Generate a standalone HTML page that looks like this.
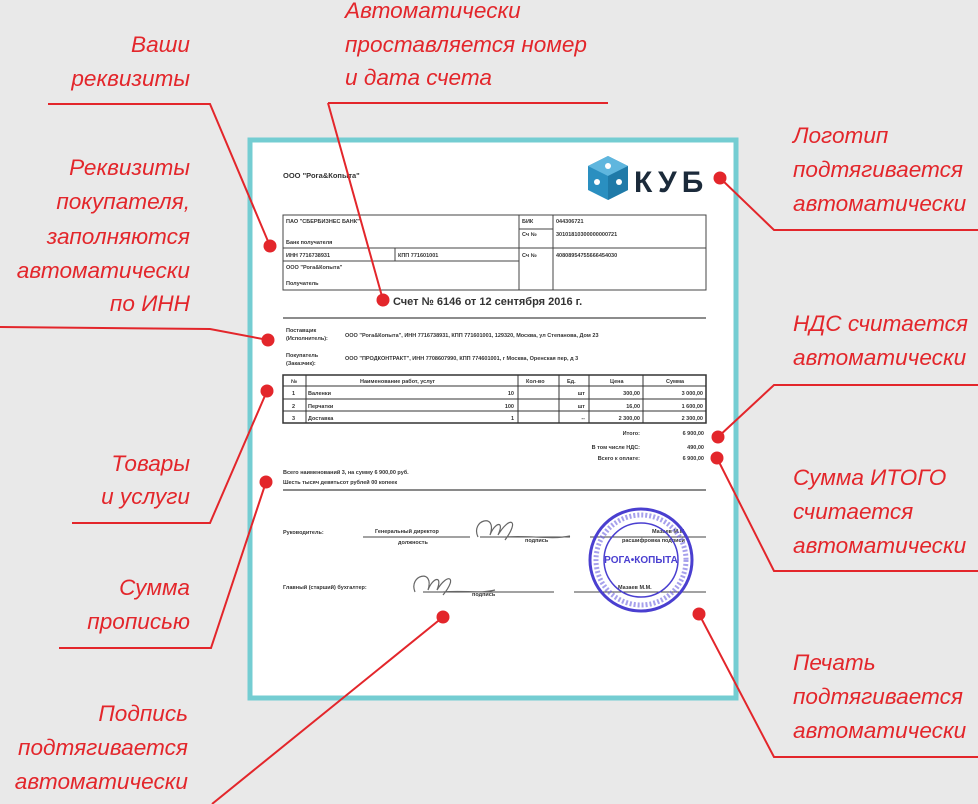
<!DOCTYPE html>
<html><head><meta charset="utf-8"><style>
html,body{margin:0;padding:0;background:#e9e9e9;}
svg{display:block;}
.lbl{font-family:"Liberation Sans",sans-serif;font-style:italic;font-size:22.6px;fill:#e3262b;}
.r{text-anchor:end;}
.d{font-family:"Liberation Sans",sans-serif;font-weight:bold;fill:#333;}
</style></head><body>
<svg width="978" height="804" viewBox="0 0 978 804" xmlns="http://www.w3.org/2000/svg">
<rect width="978" height="804" fill="#e9e9e9"/>
<rect x="250" y="140" width="486" height="558" fill="#fff" stroke="#74cdd2" stroke-width="5"/>
<text x="283" y="178" class="d" font-size="7.5">ООО "Рога&amp;Копыта"</text>
<polygon points="608,156 628,166 628,190 608,200 588,190 588,166" fill="#2a8fc0"/>
<polygon points="608,156 628,166 608,176 588,166" fill="#5fb6de"/>
<polygon points="608,176 628,166 628,190 608,200" fill="#1f7aa8"/>
<circle cx="608" cy="166" r="3" fill="#fff"/><circle cx="597" cy="182" r="3" fill="#fff"/><circle cx="619" cy="182" r="3" fill="#fff"/>
<text x="634" y="192" font-family="Liberation Sans,sans-serif" font-weight="bold" font-size="30" letter-spacing="5" fill="#1b2a3a">КУБ</text>
<g stroke="#444" stroke-width="1" fill="none">
<rect x="283" y="215" width="423" height="75"/>
<line x1="283" y1="248" x2="706" y2="248"/>
<line x1="283" y1="261" x2="519" y2="261"/>
<line x1="395" y1="248" x2="395" y2="261"/>
<line x1="519" y1="215" x2="519" y2="290"/>
<line x1="553" y1="215" x2="553" y2="290"/>
<line x1="519" y1="229" x2="553" y2="229"/>
</g>
<g class="d" font-size="5.5">
<text x="286" y="223">ПАО "СБЕРБИЗНЕС БАНК"</text>
<text x="286" y="244">Банк получателя</text>
<text x="286" y="257">ИНН 7716738931</text>
<text x="398" y="257">КПП 771601001</text>
<text x="286" y="269">ООО "Рога&amp;Копыта"</text>
<text x="286" y="285">Получатель</text>
<text x="522" y="223">БИК</text>
<text x="522" y="236">Сч №</text>
<text x="522" y="257">Сч №</text>
<text x="556" y="223">044306721</text>
<text x="556" y="236">30101810300000000721</text>
<text x="556" y="257">40808954755666454030</text>
</g>
<text x="393" y="305" font-family="Liberation Sans,sans-serif" font-size="11" font-weight="bold" fill="#333">Счет № 6146 от 12 сентября 2016 г.</text>
<line x1="283" y1="318" x2="706" y2="318" stroke="#666" stroke-width="1.5"/>
<g class="d" font-size="5.5">
<text x="286" y="332">Поставщик</text><text x="286" y="340">(Исполнитель):</text>
<text x="345" y="337">ООО "Рога&amp;Копыта", ИНН 7716738931, КПП 771601001, 129320, Москва, ул Степанова, Дом 23</text>
<text x="286" y="357">Покупатель</text><text x="286" y="365">(Заказчик):</text>
<text x="345" y="360">ООО "ПРОДКОНТРАКТ", ИНН 7708607990, КПП 774601001, г Москва, Оренская пер, д 3</text>
</g>
<g stroke="#333" stroke-width="1" fill="none">
<rect x="283" y="375" width="423" height="48" stroke-width="1.5"/>
<line x1="283" y1="386" x2="706" y2="386"/>
<line x1="283" y1="399" x2="706" y2="399"/>
<line x1="283" y1="411" x2="706" y2="411"/>
<line x1="306" y1="375" x2="306" y2="423"/>
<line x1="518" y1="375" x2="518" y2="423"/>
<line x1="559" y1="375" x2="559" y2="423"/>
<line x1="589" y1="375" x2="589" y2="423"/>
<line x1="643" y1="375" x2="643" y2="423"/>
</g>
<g class="d" font-size="5.5">
<text x="291" y="383">№</text><text x="360" y="383">Наименование работ, услуг</text><text x="526" y="383">Кол-во</text><text x="567" y="383">Ед.</text><text x="610" y="383">Цена</text><text x="666" y="383">Сумма</text>
<text x="292" y="395">1</text><text x="308" y="395">Валенки</text><text x="514" y="395" text-anchor="end">10</text><text x="585" y="395" text-anchor="end">шт</text><text x="640" y="395" text-anchor="end">300,00</text><text x="703" y="395" text-anchor="end">3 000,00</text>
<text x="292" y="408">2</text><text x="308" y="408">Перчатки</text><text x="514" y="408" text-anchor="end">100</text><text x="585" y="408" text-anchor="end">шт</text><text x="640" y="408" text-anchor="end">16,00</text><text x="703" y="408" text-anchor="end">1 600,00</text>
<text x="292" y="420">3</text><text x="308" y="420">Доставка</text><text x="514" y="420" text-anchor="end">1</text><text x="585" y="420" text-anchor="end">--</text><text x="640" y="420" text-anchor="end">2 300,00</text><text x="703" y="420" text-anchor="end">2 300,00</text>
<text x="640" y="435" text-anchor="end">Итого:</text><text x="704" y="435" text-anchor="end">6 900,00</text>
<text x="640" y="449" text-anchor="end">В том числе НДС:</text><text x="704" y="449" text-anchor="end">490,00</text>
<text x="640" y="460" text-anchor="end">Всего к оплате:</text><text x="704" y="460" text-anchor="end">6 900,00</text>
<text x="283" y="474">Всего наименований 3, на сумму 6 900,00 руб.</text>
<text x="283" y="484">Шесть тысяч девятьсот рублей 00 копеек</text>
</g>
<line x1="283" y1="490" x2="706" y2="490" stroke="#444" stroke-width="1.2"/>
<g class="d" font-size="5.5">
<text x="283" y="534">Руководитель:</text>
<text x="375" y="533">Генеральный директор</text>
<text x="398" y="544">должность</text>
<text x="525" y="542">подпись</text>
<text x="652" y="533">Мазаев М.М.</text>
<text x="622" y="542">расшифровка подписи</text>
<text x="283" y="589">Главный (старший) бухгалтер:</text>
<text x="472" y="596">подпись</text>
<text x="618" y="589">Мазаев М.М.</text>
</g>
<g stroke="#444" stroke-width="1">
<line x1="363" y1="537" x2="470" y2="537"/>
<line x1="480" y1="537" x2="570" y2="537"/>
<line x1="590" y1="537" x2="706" y2="537"/>
<line x1="423" y1="592" x2="554" y2="592"/>
<line x1="574" y1="592" x2="706" y2="592"/>
</g>
<path d="M478,537 C470,520 498,512 490,535 C495,522 505,520 498,535 C510,515 520,520 505,540 M505,537 C530,535 550,540 570,536" stroke="#666" stroke-width="1.2" fill="none"/>
<path d="M415,592 C408,575 435,568 428,590 C433,577 443,575 437,590 C448,572 458,577 443,595 M443,592 C465,590 480,594 495,590" stroke="#666" stroke-width="1.2" fill="none"/>
<circle cx="641" cy="560" r="51" fill="none" stroke="#4a3fd0" stroke-width="3"/>
<circle cx="641" cy="560" r="37" fill="none" stroke="#4a3fd0" stroke-width="1.5"/>
<circle cx="641" cy="560" r="45" fill="none" stroke="#6a60e0" stroke-width="5" stroke-dasharray="2 2" opacity="0.6"/>
<text x="641" y="563" text-anchor="middle" font-family="Liberation Sans,sans-serif" font-weight="bold" font-size="10" fill="#4a3fd0">РОГА•КОПЫТА</text>
<g stroke="#e3262b" stroke-width="2" fill="none">
<polyline points="48,104 210,104 270,246"/>
<polyline points="328,103 608,103"/>
<line x1="328" y1="103" x2="383" y2="300"/>
<polyline points="0,327 210,329 268,340"/>
<polyline points="720,178 774,230 978,230"/>
<polyline points="718,437 774,385 978,385"/>
<polyline points="72,523 210,523 267,391"/>
<polyline points="717,458 774,571 978,571"/>
<polyline points="59,648 211,648 266,482"/>
<polyline points="699,614 774,757 978,757"/>
<line x1="443" y1="617" x2="212" y2="804"/>
</g>
<g fill="#e3262b">
<circle cx="270" cy="246" r="6.5"/><circle cx="383" cy="300" r="6.5"/><circle cx="268" cy="340" r="6.5"/>
<circle cx="720" cy="178" r="6.5"/><circle cx="718" cy="437" r="6.5"/><circle cx="267" cy="391" r="6.5"/>
<circle cx="717" cy="458" r="6.5"/><circle cx="266" cy="482" r="6.5"/><circle cx="699" cy="614" r="6.5"/>
<circle cx="443" cy="617" r="6.5"/>
</g>
<text class="lbl r" x="190" y="52">Ваши</text>
<text class="lbl r" x="190" y="86">реквизиты</text>
<text class="lbl" x="345" y="18">Автоматически</text>
<text class="lbl" x="345" y="52">проставляется номер</text>
<text class="lbl" x="345" y="85">и дата счета</text>
<text class="lbl r" x="190" y="175">Реквизиты</text>
<text class="lbl r" x="190" y="209">покупателя,</text>
<text class="lbl r" x="190" y="244">заполняются</text>
<text class="lbl r" x="190" y="278">автоматически</text>
<text class="lbl r" x="190" y="311">по ИНН</text>
<text class="lbl" x="793" y="143">Логотип</text>
<text class="lbl" x="793" y="177">подтягивается</text>
<text class="lbl" x="793" y="211">автоматически</text>
<text class="lbl" x="793" y="331">НДС считается</text>
<text class="lbl" x="793" y="365">автоматически</text>
<text class="lbl r" x="190" y="471">Товары</text>
<text class="lbl r" x="190" y="504">и услуги</text>
<text class="lbl" x="793" y="485">Сумма ИТОГО</text>
<text class="lbl" x="793" y="519">считается</text>
<text class="lbl" x="793" y="553">автоматически</text>
<text class="lbl r" x="190" y="595">Сумма</text>
<text class="lbl r" x="190" y="629">прописью</text>
<text class="lbl" x="793" y="670">Печать</text>
<text class="lbl" x="793" y="704">подтягивается</text>
<text class="lbl" x="793" y="738">автоматически</text>
<text class="lbl r" x="188" y="721">Подпись</text>
<text class="lbl r" x="188" y="755">подтягивается</text>
<text class="lbl r" x="188" y="789">автоматически</text>
</svg>
</body></html>
